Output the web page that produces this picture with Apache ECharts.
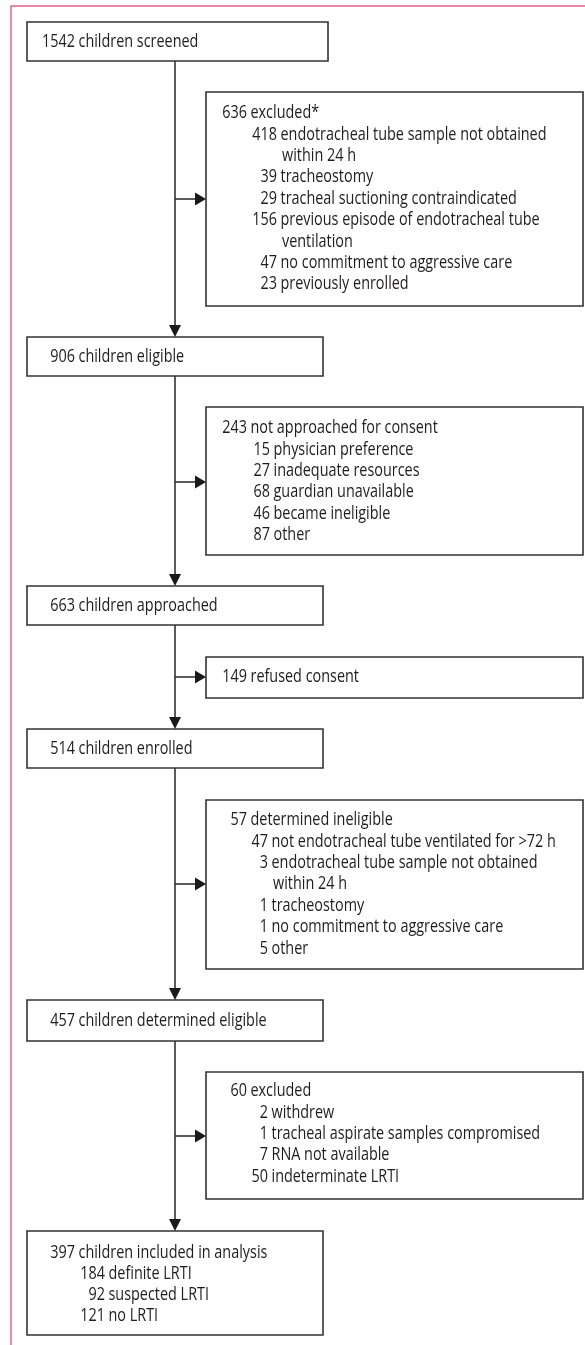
<!DOCTYPE html>
<html>
<head>
<meta charset="utf-8">
<script src="https://cdn.jsdelivr.net/npm/echarts@6/dist/echarts.min.js"></script>
<style>
  html, body { margin: 0; padding: 0; background: #fff; }
  #chart { width: 585px; height: 1345px; }
</style>
</head>
<body>
<div id="chart"></div>
<script>
// main flow (left column)
var mainCounts = [1542, 906, 663, 514, 457, 397];
var mainLabels = ['children screened', 'children eligible', 'children approached',
    'children enrolled', 'children determined eligible', 'children included in analysis'];
var finalCounts = [184, 92, 121];
var finalLabels = ['definite LRTI', 'suspected LRTI', 'no LRTI'];

// exclusion boxes (right column)
var exclCounts = [636, 243, 149, 57, 60];
var exclLabels = ['excluded*', 'not approached for consent', 'refused consent',
    'determined ineligible', 'excluded'];
var screenedCounts = [418, 39, 29, 156, 47, 23];
var screenedLabels = [['endotracheal tube sample not obtained', 'within 24 h'], ['tracheostomy'],
    ['tracheal suctioning contraindicated'], ['previous episode of endotracheal tube', 'ventilation'],
    ['no commitment to aggressive care'], ['previously enrolled']];
var consentCounts = [15, 27, 68, 46, 87];
var consentLabels = [['physician preference'], ['inadequate resources'], ['guardian unavailable'],
    ['became ineligible'], ['other']];
var refusedCounts = [];
var refusedLabels = [];
var ineligCounts = [47, 3, 1, 1, 5];
var ineligLabels = [['not endotracheal tube ventilated for >72 h'],
    ['endotracheal tube sample not obtained', 'within 24 h'], ['tracheostomy'],
    ['no commitment to aggressive care'], ['other']];
var lateCounts = [2, 1, 7, 50];
var lateLabels = [['withdrew'], ['tracheal aspirate samples compromised'], ['RNA not available'],
    ['indeterminate LRTI']];

// layout
var FONT = '18px "Open Sans", "Noto Sans", sans-serif';
var INK = '#1f1c1d';
var LINE = '#333333';
var stemX = 175;
var lineStep = 21.4;

// squeeze the font so a known line is as wide as in the printed figure (266 px)
var ctx = document.createElement('canvas').getContext('2d');
ctx.font = FONT;
var TEXT_SQUEEZE = 266 / ctx.measureText('endotracheal tube sample not obtained').width;

// [x1, y1, x2, y2]
var mainBoxes = [[27, 22, 328, 61], [27, 337, 323, 376], [27, 586, 323, 625],
    [27, 729, 323, 768], [27, 1000, 323, 1041], [27, 1231, 323, 1335]];
var sideBoxes = [[206, 92, 583, 306], [206, 407, 583, 555], [206, 657, 583, 698],
    [206, 800, 583, 969], [206, 1072, 583, 1199]];
var sideArrowY = [199, 482, 677, 884, 1136];
var sideSubNumRight = [277, 270, 270, 268, 268];
var sideSubs = [
    [screenedCounts, screenedLabels], [consentCounts, consentLabels], [refusedCounts, refusedLabels],
    [ineligCounts, ineligLabels], [lateCounts, lateLabels]
];
var sideTitleY = [113, 428, 677, 820, 1091];

var els = [];

function txt(x, y, s, align) {
    els.push({
        type: 'text', silent: true, z: 10,
        x: x, y: y, scaleX: TEXT_SQUEEZE,
        style: { x: 0, y: 0, text: s, font: FONT, fill: INK,
            textAlign: align || 'left', textVerticalAlign: 'middle',
            align: align || 'left', verticalAlign: 'middle' }
    });
}
function rect(b) {
    els.push({
        type: 'rect', silent: true, z: 5,
        shape: { x: b[0], y: b[1], width: b[2] - b[0], height: b[3] - b[1] },
        style: { fill: '#fff', stroke: LINE, lineWidth: 1.6 }
    });
}
function seg(x1, y1, x2, y2) {
    els.push({
        type: 'line', silent: true, z: 4,
        shape: { x1: x1, y1: y1, x2: x2, y2: y2 },
        style: { stroke: LINE, lineWidth: 1.6 }
    });
}
function head(x, y, dir) {
    var pts = dir === 'down'
        ? [[x, y], [x - 6, y - 12], [x + 6, y - 12]]
        : [[x, y], [x - 11, y - 6.5], [x - 11, y + 6.5]];
    els.push({ type: 'polygon', silent: true, z: 6, shape: { points: pts }, style: { fill: '#1a1a1a' } });
}

// pink page frame
els.push({ type: 'polyline', silent: true, z: 1,
    shape: { points: [[11, 1345], [11, 6], [585, 6]] },
    style: { stroke: '#e0658a', lineWidth: 1.5, fill: null } });

// main boxes and connectors
mainBoxes.forEach(function (b, i) {
    rect(b);
    if (i < mainBoxes.length - 1) {
        seg(stemX, b[3], stemX, mainBoxes[i + 1][1] - 2);
        head(stemX, mainBoxes[i + 1][1], 'down');
    }
});
var mainNumRight = 75;
mainBoxes.forEach(function (b, i) {
    var y = i === mainBoxes.length - 1 ? 1253 : (b[1] + b[3]) / 2;
    txt(mainNumRight, y, String(mainCounts[i]), 'right');
    txt(mainNumRight + 3.5, y, mainLabels[i]);
});
finalCounts.forEach(function (c, j) {
    var y = 1253 + (j + 1) * 21;
    txt(105, y, String(c), 'right');
    txt(108.5, y, finalLabels[j]);
});

// exclusion boxes
sideBoxes.forEach(function (b, i) {
    rect(b);
    seg(stemX, sideArrowY[i], b[0] - 2, sideArrowY[i]);
    head(b[0], sideArrowY[i], 'right');
    var y = sideTitleY[i];
    txt(247, y, String(exclCounts[i]), 'right');
    txt(250.5, y, exclLabels[i]);
    var counts = sideSubs[i][0], labels = sideSubs[i][1];
    var nr = sideSubNumRight[i];
    counts.forEach(function (c, j) {
        y += lineStep;
        txt(nr, y, String(c), 'right');
        labels[j].forEach(function (l, k) {
            if (k > 0) y += lineStep;
            txt(nr + (k > 0 ? 5 : 3.5), y, l);
        });
    });
});

var chart = echarts.init(document.getElementById('chart'), null, { renderer: 'canvas' });
chart.setOption({
    backgroundColor: '#fff',
    animation: false,
    graphic: { elements: els }
});
</script>
</body>
</html>
